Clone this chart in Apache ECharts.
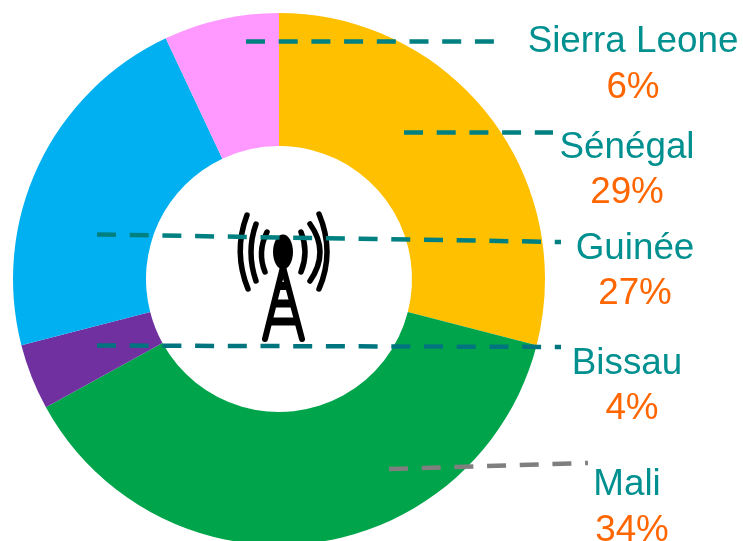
<!DOCTYPE html>
<html>
<head>
    <meta charset="utf-8">
    <title>Sierra Leone, Sénégal, Guinée, Bissau, Mali</title>
    <script src="https://cdn.jsdelivr.net/npm/echarts@6/dist/echarts.min.js"></script>
    <style>
        html, body { margin: 0; padding: 0; background: #fff; }
        #main { width: 743px; height: 541px; }
    </style>
</head>
<body>
<div id="main"></div>
<script>
    // slices in drawing order, clockwise from the top
    var countries = ['Sénégal', 'Mali', 'Bissau', 'Guinée', 'Sierra Leone'];
    // share as the slices are drawn in the picture (not the same as the printed %)
    var sliceValues = [29, 38, 4, 22, 7];
    var printedLabels = ['29%', '34%', '4%', '27%', '6%'];
    var sliceColors = ['#FFC000', '#00A44A', '#7030A0', '#00B0F0', '#FF99FF'];

    var labelFont = '"Liberation Sans", Arial, sans-serif';
    var nameColor = '#00908F';
    var pctColor = '#FF6600';

    // label layout, same order as countries
    var labelSpots = [
        {x: 627, y: 148, py: 193, px: 627},
        {x: 627, y: 485, py: 531, px: 632},
        {x: 627, y: 364, py: 409, px: 632},
        {x: 635, y: 249, py: 294, px: 635},
        {x: 633, y: 42, py: 88, px: 633}
    ];
    // leader lines, same order as countries
    var leaders = [
        {x1: 404, y1: 132.5, x2: 553, y2: 132.5, color: '#008080'},
        {x1: 389, y1: 469, x2: 588, y2: 463, color: '#7F7F7F'},
        {x1: 97, y1: 345.5, x2: 561, y2: 347, color: '#00757F'},
        {x1: 97, y1: 234.5, x2: 561, y2: 242, color: '#008080'},
        {x1: 246, y1: 41.5, x2: 494, y2: 41.5, color: '#008080'}
    ];

    var graphics = [];

    // antenna icon in the hole of the donut
    var antennaWaves = [
        [247, 215, 233, 252, 248, 289],
        [256, 224, 246, 252, 256, 281],
        [267, 232, 257, 252, 265, 272],
        [319, 214, 335, 252, 319, 289],
        [310, 224, 330, 252, 310, 281],
        [301, 232, 309, 252, 301, 272]
    ];
    antennaWaves.forEach(function (w) {
        graphics.push({type: 'bezierCurve', z: 10,
            shape: {x1: w[0], y1: w[1], cpx1: w[2], cpy1: w[3], x2: w[4], y2: w[5]},
            style: {fill: null, stroke: '#000', lineWidth: 5.5, lineCap: 'round'}});
    });
    graphics.push({type: 'line', z: 10, shape: {x1: 283, y1: 267, x2: 265, y2: 339},
        style: {stroke: '#000', lineWidth: 6, lineCap: 'round'}});
    graphics.push({type: 'line', z: 10, shape: {x1: 283, y1: 267, x2: 302, y2: 339},
        style: {stroke: '#000', lineWidth: 6, lineCap: 'round'}});
    graphics.push({type: 'ellipse', z: 10, shape: {cx: 283, cy: 252, rx: 10, ry: 17.5}, style: {fill: '#000'}});
    graphics.push({type: 'rect', z: 10, shape: {x: 278, y: 282, width: 10, height: 8}, style: {fill: '#000'}});
    graphics.push({type: 'rect', z: 10, shape: {x: 274, y: 299.5, width: 19, height: 8}, style: {fill: '#000'}});
    graphics.push({type: 'rect', z: 10, shape: {x: 270, y: 317.5, width: 27, height: 8}, style: {fill: '#000'}});

    leaders.forEach(function (l) {
        graphics.push({
            type: 'line', z: 20,
            shape: {x1: l.x1, y1: l.y1, x2: l.x2, y2: l.y2},
            style: {stroke: l.color, lineWidth: 4.5, lineDash: [19, 13.7]}
        });
    });

    countries.forEach(function (name, i) {
        var s = labelSpots[i];
        graphics.push({
            type: 'text', z: 30, x: s.x, y: s.y,
            style: {text: name, fill: nameColor, font: '36.8px ' + labelFont, textAlign: 'center', textVerticalAlign: 'middle'}
        });
        graphics.push({
            type: 'text', z: 30, x: s.px, y: s.py,
            style: {text: printedLabels[i], fill: pctColor, font: '36.8px ' + labelFont, textAlign: 'center', textVerticalAlign: 'middle'}
        });
    });

    var myChart = echarts.init(document.getElementById('main'), null, {renderer: 'canvas'});
    var option = {
        animation: false,
        backgroundColor: '#fff',
        series: [{
            type: 'pie',
            center: [279, 279],
            radius: [133, 266],
            startAngle: 90,
            clockwise: true,
            silent: true,
            label: {show: false},
            labelLine: {show: false},
            data: countries.map(function (name, i) {
                return {name: name, value: sliceValues[i], itemStyle: {color: sliceColors[i]}};
            })
        }],
        graphic: graphics
    };
    myChart.setOption(option);
</script>
</body>
</html>
